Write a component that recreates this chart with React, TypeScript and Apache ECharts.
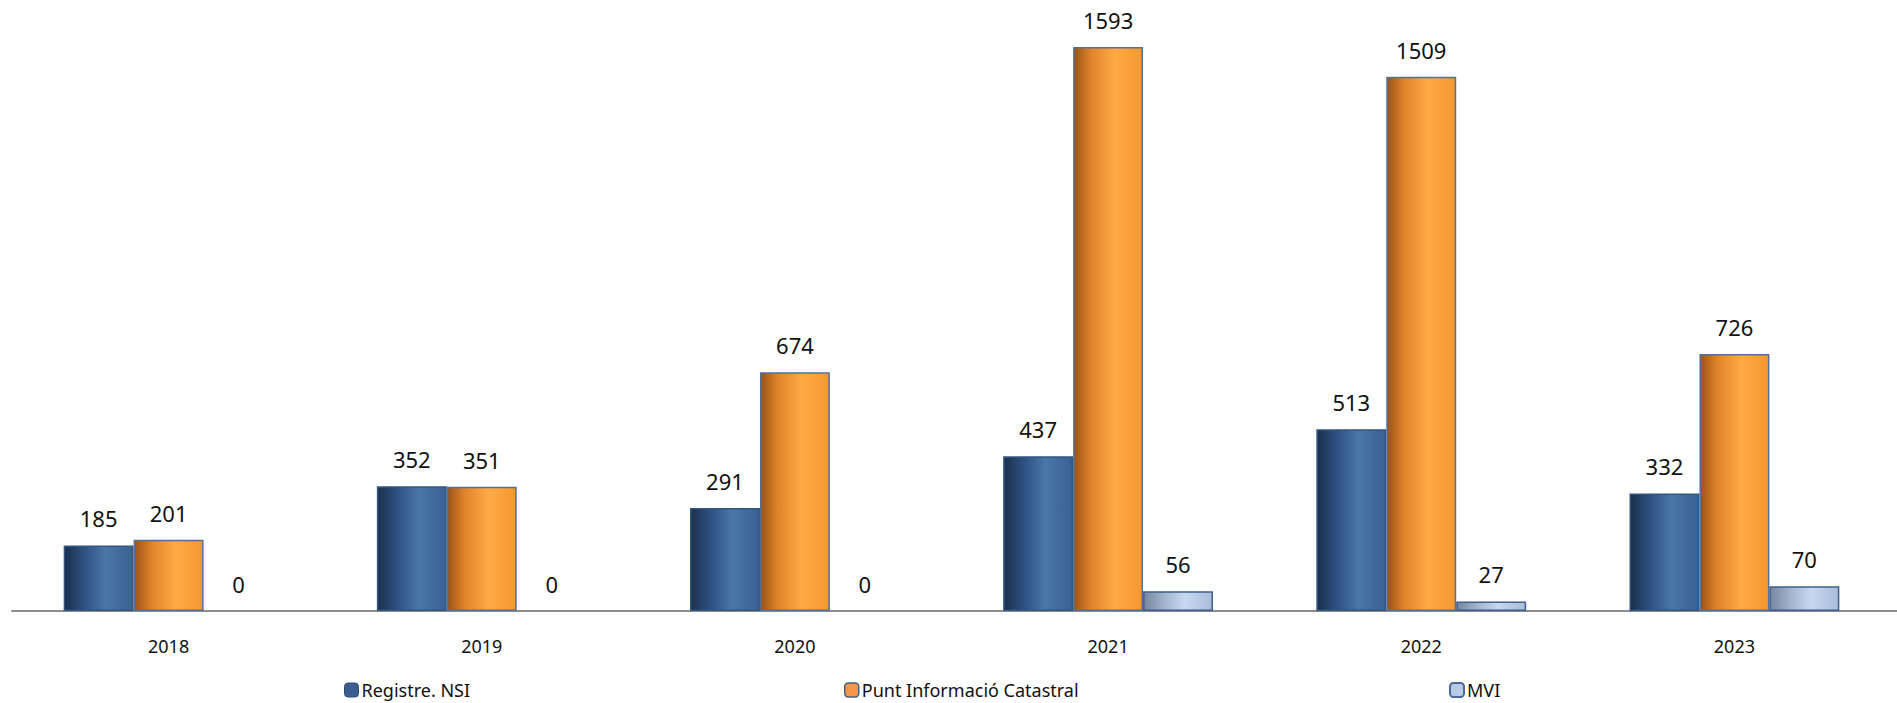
import React, { useEffect, useRef } from "react";
import * as echarts from "echarts";

const years = ["2018", "2019", "2020", "2021", "2022", "2023"];
const registreNSI = [185, 352, 291, 437, 513, 332];
const puntInformacio = [201, 351, 674, 1593, 1509, 726];
const mvi = [0, 0, 0, 56, 27, 70];
const seriesNames = ["Registre. NSI", "Punt Informació Catastral", "MVI"];

const FONT = "'Noto Sans', 'Open Sans', sans-serif";

const grad = (stops: [number, string][]) =>
  new echarts.graphic.LinearGradient(
    0, 0, 1, 0,
    stops.map(([offset, color]) => ({ offset, color }))
  );

// hide the border of zero-height bars so nothing is drawn for them
const withZeroHidden = (values: number[]) =>
  values.map((v) => (v === 0 ? { value: v, itemStyle: { borderWidth: 0, opacity: 0 } } : v));

export default function App() {
  const ref = useRef<HTMLDivElement>(null);

  useEffect(() => {
    if (!ref.current) return;
    const chart = echarts.init(ref.current, undefined, { renderer: "svg" });

    const blueFill = grad([
      [0, "#1a2f4d"],
      [0.3, "#2f5283"],
      [0.6, "#4a76a8"],
      [1, "#3a6193"],
    ]);
    const orangeFill = grad([
      [0, "#9a5318"],
      [0.25, "#e0832a"],
      [0.6, "#ffaa46"],
      [1, "#f5972f"],
    ]);
    const mviFill = grad([
      [0, "#76869f"],
      [0.3, "#a3b4cd"],
      [0.6, "#c7d8f0"],
      [1, "#a9bcd9"],
    ]);

    const label = {
      show: true,
      position: "top" as const,
      distance: 16,
      fontSize: 22,
      fontFamily: FONT,
      color: "#111",
      opacity: 1,
    };

    const legendCommon = {
      orient: "horizontal" as const,
      bottom: 4,
      padding: 0,
      itemWidth: 14,
      itemHeight: 14,
      itemGap: 4,
      textStyle: { fontSize: 18, fontFamily: FONT, color: "#111", padding: [0, 0, 0, -2] },
    };

    chart.setOption({
      animation: false,
      backgroundColor: "#ffffff",
      legend: [
        { ...legendCommon, left: 344, data: [{ name: seriesNames[0], itemStyle: { color: "#3a5f8f", borderColor: "#2c4a72", borderWidth: 1 } }] },
        { ...legendCommon, left: 844, data: [{ name: seriesNames[1], itemStyle: { color: "#f79646", borderColor: "#4a5f80", borderWidth: 1.5 } }] },
        { ...legendCommon, left: 1449, data: [{ name: seriesNames[2], itemStyle: { color: "#b9cae4", borderColor: "#4a6a98", borderWidth: 2 } }] },
      ],
      grid: { left: 12, right: 6, top: 9, bottom: 92 },
      graphic: [
        {
          type: "line",
          shape: { x1: 1890, y1: 611, x2: 1897, y2: 611 },
          style: { stroke: "#8c8c8c", lineWidth: 2 },
          silent: true,
        },
      ],
      xAxis: {
        type: "category",
        data: years,
        boundaryGap: true,
        axisLine: { show: true, lineStyle: { color: "#8c8c8c", width: 2 } },
        axisTick: { show: false },
        axisLabel: { margin: 26, fontSize: 18, fontFamily: FONT, color: "#111" },
      },
      yAxis: {
        type: "value",
        min: 0,
        max: 1700,
        show: false,
        splitLine: { show: false },
      },
      series: [
        {
          name: seriesNames[0],
          type: "bar",
          data: registreNSI,
          barGap: "0%",
          barCategoryGap: "33%",
          itemStyle: { color: blueFill, borderColor: "#34557f", borderWidth: 1.5 },
          label,
        },
        {
          name: seriesNames[1],
          type: "bar",
          data: puntInformacio,
          barGap: "0%",
          barCategoryGap: "33%",
          itemStyle: { color: orangeFill, borderColor: "#52709a", borderWidth: 1.5 },
          label,
        },
        {
          name: seriesNames[2],
          type: "bar",
          data: withZeroHidden(mvi),
          barGap: "0%",
          barCategoryGap: "33%",
          itemStyle: { color: mviFill, borderColor: "#3f5f8c", borderWidth: 1.5 },
          label,
        },
      ],
    });

    return () => chart.dispose();
  }, []);

  return (
    <div
      ref={ref}
      style={{ position: "absolute", left: 0, top: 0, width: 1897, height: 703 }}
    />
  );
}
